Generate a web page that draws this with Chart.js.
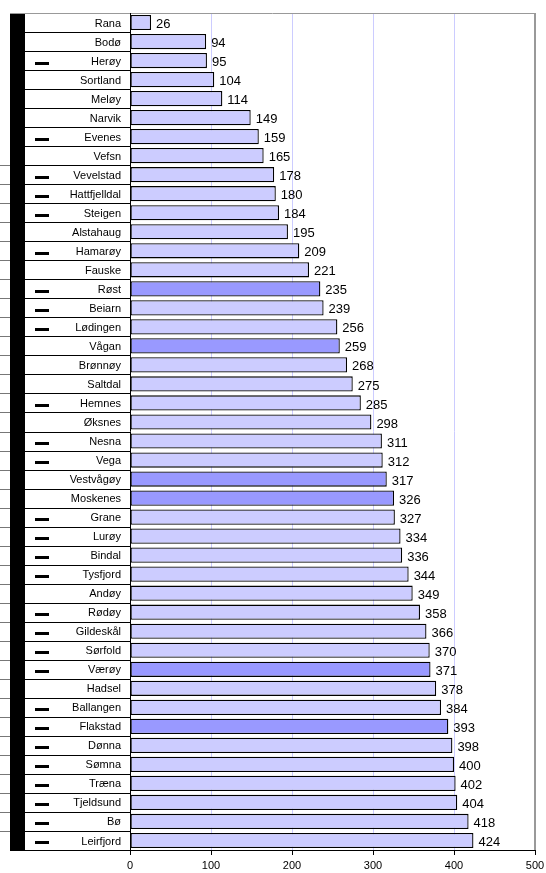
<!DOCTYPE html>
<html>
<head>
<meta charset="utf-8">
<script src="https://cdn.jsdelivr.net/npm/chart.js@4/dist/chart.umd.min.js"></script>
<style>
  html, body { margin: 0; padding: 0; background: #fff; }
  #wrap { width: 546px; height: 873px; }
</style>
</head>
<body>
<div id="wrap"><canvas id="myChart" width="546" height="873"></canvas></div>
<script>
// kommuner, sortert etter verdi
var names = ["Rana", "Bodø", "Herøy", "Sortland", "Meløy", "Narvik", "Evenes", "Vefsn",
  "Vevelstad", "Hattfjelldal", "Steigen", "Alstahaug", "Hamarøy", "Fauske", "Røst", "Beiarn",
  "Lødingen", "Vågan", "Brønnøy", "Saltdal", "Hemnes", "Øksnes", "Nesna", "Vega",
  "Vestvågøy", "Moskenes", "Grane", "Lurøy", "Bindal", "Tysfjord", "Andøy", "Rødøy",
  "Gildeskål", "Sørfold", "Værøy", "Hadsel", "Ballangen", "Flakstad", "Dønna", "Sømna",
  "Træna", "Tjeldsund", "Bø", "Leirfjord"];
var values = [26, 94, 95, 104, 114, 149, 159, 165, 178, 180, 184, 195, 209, 221, 235, 239,
  256, 259, 268, 275, 285, 298, 311, 312, 317, 326, 327, 334, 336, 344, 349, 358,
  366, 370, 371, 378, 384, 393, 398, 400, 402, 404, 418, 424];
// Lofoten-kommunene er uthevet
var lofoten = ["Røst", "Vågan", "Vestvågøy", "Moskenes", "Værøy", "Flakstad"];
// rader med liten strek i tabellen til venstre
var dashed = ["Herøy", "Evenes", "Vevelstad", "Hattfjelldal", "Steigen", "Hamarøy", "Røst",
  "Beiarn", "Lødingen", "Hemnes", "Nesna", "Vega", "Grane", "Lurøy", "Bindal", "Tysfjord",
  "Rødøy", "Gildeskål", "Sørfold", "Værøy", "Ballangen", "Flakstad", "Dønna", "Sømna",
  "Træna", "Tjeldsund", "Bø", "Leirfjord"];
var xTicks = [0, 100, 200, 300, 400, 500];

var FONT = '"Liberation Sans", Arial, sans-serif';

var colors = names.map(function(n) {
  return lofoten.indexOf(n) >= 0 ? '#9999ff' : '#ccccff';
});

// tabell til venstre + ramme
var tablePlugin = {
  id: 'table',
  beforeDatasetsDraw: function(chart) {
    var ctx = chart.ctx;
    var area = chart.chartArea;
    var y = chart.scales.y;
    var n = names.length;
    var rowH = (area.bottom - area.top) / n;
    ctx.save();
    // svart kolonne
    ctx.fillStyle = '#000';
    ctx.fillRect(10, area.top, 15, area.bottom - area.top);
    ctx.font = '11px ' + FONT;
    ctx.textAlign = 'right';
    ctx.textBaseline = 'middle';
    for (var i = 0; i < n; i++) {
      var cy = y.getPixelForValue(i);
      var top = cy - rowH / 2;
      // skillelinje
      ctx.strokeStyle = '#000';
      ctx.lineWidth = 1;
      ctx.beginPath();
      ctx.moveTo(25, Math.round(top) + 0.5);
      ctx.lineTo(area.left, Math.round(top) + 0.5);
      ctx.stroke();
      // små markeringer helt til venstre
      if (i > 7) {
        ctx.strokeStyle = '#777';
        ctx.beginPath();
        ctx.moveTo(0, Math.round(top) + 0.5);
        ctx.lineTo(10, Math.round(top) + 0.5);
        ctx.stroke();
      }
      if (dashed.indexOf(names[i]) >= 0) {
        ctx.fillStyle = '#000';
        ctx.fillRect(35, Math.round(cy) + 1, 14, 3);
      }
      ctx.fillStyle = '#000';
      ctx.fillText(names[i], 121, cy + 1);
    }
    // bunnlinje i tabellen
    ctx.strokeStyle = '#000';
    ctx.beginPath();
    ctx.moveTo(10, area.bottom + 0.5);
    ctx.lineTo(area.left, area.bottom + 0.5);
    ctx.stroke();
    // ramme topp og høyre
    ctx.strokeStyle = '#999';
    ctx.lineWidth = 1;
    ctx.beginPath();
    ctx.moveTo(10, area.top + 0.5);
    ctx.lineTo(area.right, area.top + 0.5);
    ctx.stroke();
    ctx.lineWidth = 2;
    ctx.beginPath();
    ctx.moveTo(area.right, area.top);
    ctx.lineTo(area.right, area.bottom);
    ctx.stroke();
    // venstre kant av plottet
    ctx.strokeStyle = '#000';
    ctx.lineWidth = 1;
    ctx.beginPath();
    ctx.moveTo(area.left + 0.5, area.top);
    ctx.lineTo(area.left + 0.5, area.bottom);
    ctx.stroke();
    ctx.restore();
  },
  afterDatasetsDraw: function(chart) {
    var ctx = chart.ctx;
    var meta = chart.getDatasetMeta(0);
    ctx.save();
    ctx.font = '13px ' + FONT;
    ctx.fillStyle = '#000';
    ctx.textAlign = 'left';
    ctx.textBaseline = 'middle';
    meta.data.forEach(function(bar, i) {
      ctx.fillText(values[i], bar.x + 5, bar.y + 2);
    });
    ctx.restore();
  }
};

var ctx = document.getElementById('myChart').getContext('2d');
var myChart = new Chart(ctx, {
  type: 'bar',
  data: {
    labels: names,
    datasets: [{
      data: values,
      backgroundColor: colors,
      borderColor: '#000',
      borderWidth: 1.3,
      borderSkipped: false,
      barPercentage: 0.8,
      categoryPercentage: 1.0
    }]
  },
  options: {
    indexAxis: 'y',
    responsive: false,
    animation: false,
    layout: { padding: { left: 130, right: 11, top: 13, bottom: 0 } },
    plugins: {
      legend: { display: false },
      tooltip: { enabled: false }
    },
    scales: {
      y: { display: false },
      x: {
        min: 0,
        max: 500,
        afterBuildTicks: function(axis) {
          axis.ticks = xTicks.map(function(v) { return { value: v }; });
        },
        afterFit: function(scale) {
          scale.height = 23;
          scale.paddingLeft = 0;
          scale.paddingRight = 0;
        },
        border: { display: true, color: '#000', width: 1 },
        grid: {
          color: function(c) {
            return (c.tick && (c.tick.value === 0 || c.tick.value === 500)) ? 'rgba(0,0,0,0)' : '#ccccff';
          },
          tickColor: '#000',
          tickLength: 5,
          drawOnChartArea: true
        },
        ticks: {
          color: '#000',
          padding: 4,
          maxRotation: 0,
          font: { family: FONT, size: 11 }
        }
      }
    }
  },
  plugins: [tablePlugin]
});
</script>
</body>
</html>
